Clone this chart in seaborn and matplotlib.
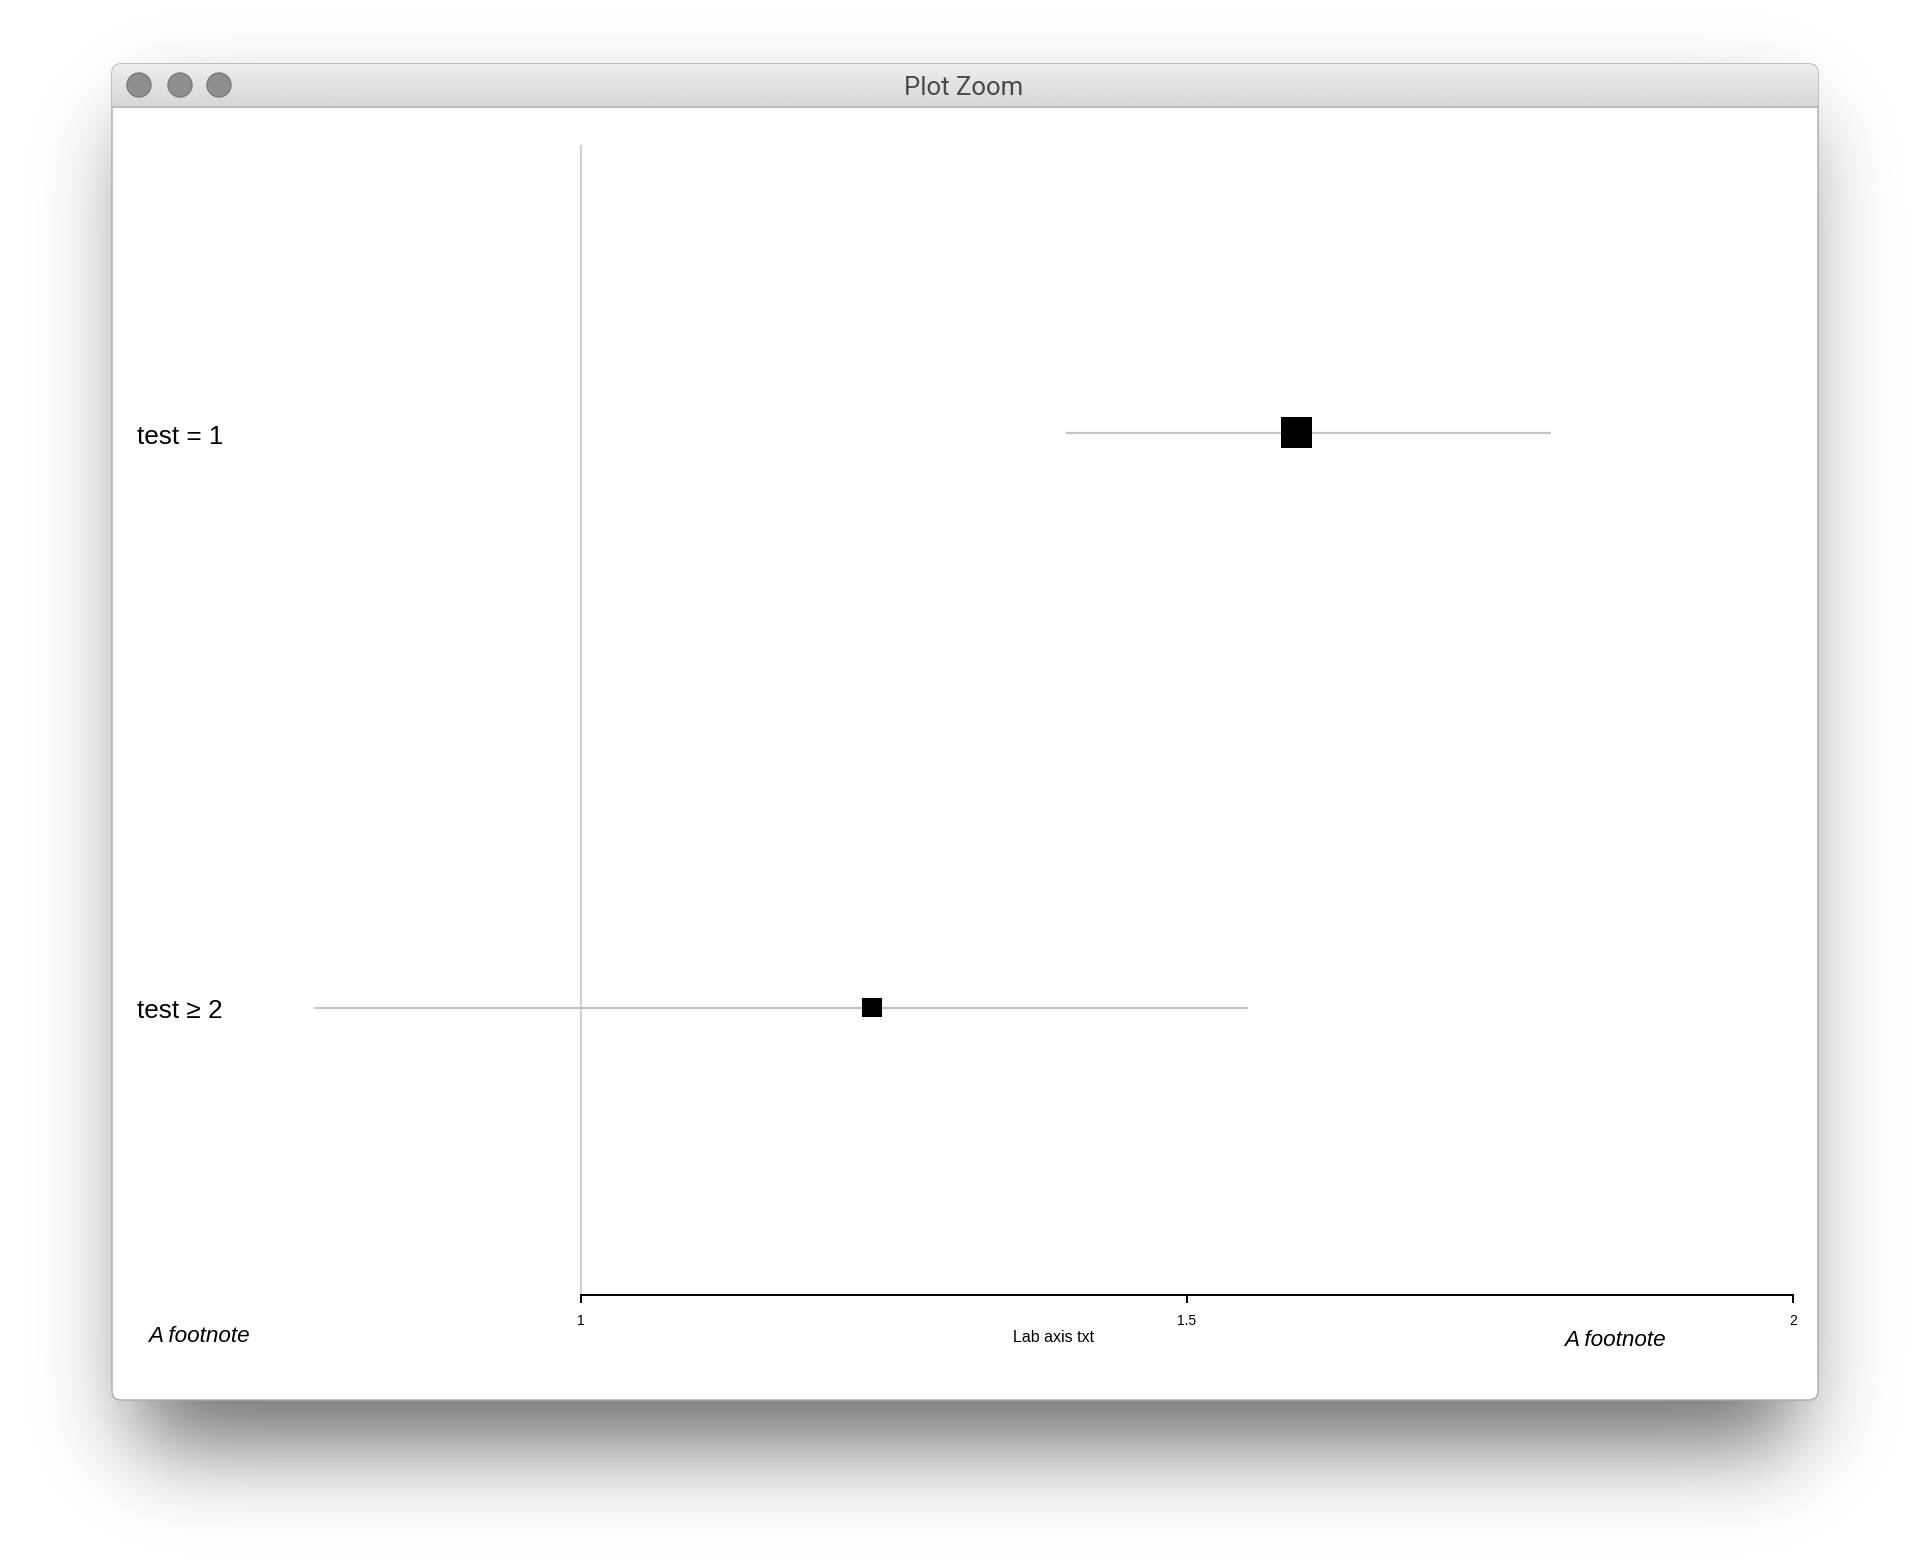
import numpy as np
import matplotlib
matplotlib.use("Agg")
import matplotlib.pyplot as plt
import seaborn as sns
import pandas as pd
from math import erf
from matplotlib import transforms
from matplotlib.patches import FancyBboxPatch, Circle

# Forest plot data
labels = ["test = 1", "test \u2265 2"]
means = [1.59, 1.24]
lower = [1.40, 0.78]
upper = [1.80, 1.55]
weights = [1.0, 0.645]
x_ticks = [1, 1.5, 2]
x_tick_labels = ["1", "1.5", "2"]
x_label = "Lab axis txt"
footnote = "A footnote"
window_title = "Plot Zoom"

W, H = 1930, 1560
sns.set_theme(style="white")
plt.rcParams["font.family"] = ["Liberation Sans", "DejaVu Sans"]

fig = plt.figure(figsize=(W / 100, H / 100), dpi=100)
fig.patch.set_facecolor("white")

# background layer in pixel coordinates: window shadow + window chrome
bg = fig.add_axes([0, 0, 1, 1])
bg.set_xlim(0, W)
bg.set_ylim(H, 0)
bg.axis("off")

verf = np.vectorize(erf)
sig = 45.0
xs = np.arange(W) + 0.5
ys = np.arange(H) + 0.5
fx = 0.5 * (verf((xs - 135) / (sig * np.sqrt(2))) - verf((xs - 1795) / (sig * np.sqrt(2))))
fy = 0.5 * (verf((ys - 120) / (sig * np.sqrt(2))) - verf((ys - 1445) / (sig * np.sqrt(2))))
shadow = 0.57 * np.outer(fy, fx)
bg.imshow(1 - shadow, cmap="gray", vmin=0, vmax=1, extent=(0, W, H, 0),
          interpolation="bilinear", zorder=0)

win = FancyBboxPatch((112, 64), 1706, 1336, boxstyle="round,pad=0,rounding_size=9",
                     facecolor="white", edgecolor="#a8a8a8", linewidth=1.0, zorder=1)
bg.add_patch(win)
grad = np.linspace(0.93, 0.84, 64).reshape(-1, 1)
tb = bg.imshow(grad, cmap="gray", vmin=0, vmax=1, extent=(112, 1818, 107, 64),
               aspect="auto", interpolation="bilinear", zorder=2)
tb.set_clip_path(win)
bg.plot([112, 1818], [107, 107], color="#b4b4b4", linewidth=1.2, zorder=3)
for cx in [139, 180, 219]:
    bg.add_patch(Circle((cx, 85), 12, facecolor="#8e8e8e", edgecolor="#7a7a7a",
                        linewidth=1.0, zorder=3))
bg.text(964, 88, window_title, ha="center", va="center", fontsize=18.5,
        color="#4a4a4a", family=["Roboto", "DejaVu Sans"], zorder=4)

# main forest plot axes
left_px, right_px, top_px, bottom_px = 290, 1800, 145, 1295
ax = fig.add_axes([left_px / W, 1 - bottom_px / H,
                   (right_px - left_px) / W, (bottom_px - top_px) / H])
ax.set_facecolor("none")
px_per_unit = 1212.0
ax.set_xlim(1 - (581 - left_px) / px_per_unit, 2 + (right_px - 1793) / px_per_unit)
ax.set_ylim(1.5, -0.5)

df = pd.DataFrame({"label": labels, "mean": means, "lower": lower,
                   "upper": upper, "weight": weights})
df["row"] = np.arange(len(df))

ax.axvline(1, color="#cfcfcf", linewidth=1.4, zorder=1)
ax.hlines(df["row"], df["lower"], df["upper"], color="#c4c4c4", linewidth=1.6, zorder=2)
box_pt = 31 * 0.72 * df["weight"]
sns.scatterplot(data=df, x="mean", y="row", marker="s", color="black",
                s=box_pt ** 2, edgecolor="black", linewidth=0, legend=False,
                zorder=3, ax=ax)

for sp in ["top", "right", "left"]:
    ax.spines[sp].set_visible(False)
ax.spines["bottom"].set_bounds(1, 2)
ax.spines["bottom"].set_color("black")
ax.spines["bottom"].set_linewidth(1.4)
ax.set_xticks(x_ticks)
ax.set_xticklabels(x_tick_labels)
ax.tick_params(axis="x", bottom=True, length=6, width=1.4, color="black",
               labelsize=10, pad=8, labelcolor="black")
ax.set_yticks([])
ax.set_ylabel("")
ax.set_xlabel(x_label, fontsize=11.5, color="black")
ax.xaxis.set_label_coords((1054 - left_px) / (right_px - left_px),
                          -(1337 - bottom_px) / (bottom_px - top_px))
ax.xaxis.label.set_va("center")

# row labels on the left
trans = transforms.blended_transform_factory(fig.transFigure, ax.transData)
shift = transforms.ScaledTranslation(0, -4 / 100, fig.dpi_scale_trans)
for i, lab in enumerate(labels):
    ax.text(137 / W, i, lab, transform=trans + shift, ha="left", va="center",
            fontsize=18.8, color="black")

fig.text(148 / W, 1 - 1337 / H, footnote, ha="left", va="center",
         fontsize=16.2, style="italic", color="black")
fig.text(1564 / W, 1 - 1340 / H, footnote, ha="left", va="center",
         fontsize=16.2, style="italic", color="black")

fig.savefig("out.png", dpi=100)
